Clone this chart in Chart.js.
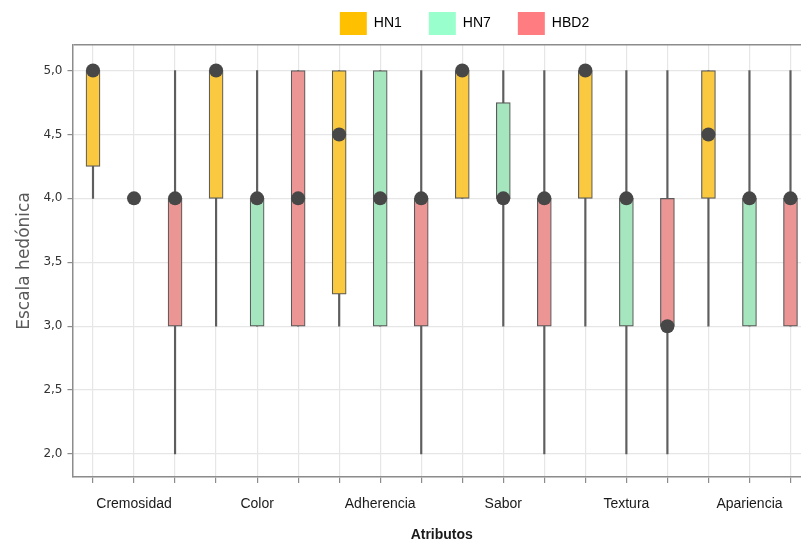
<!DOCTYPE html>
<html>
<head>
<meta charset="utf-8">
<script src="https://cdn.jsdelivr.net/npm/chart.js@4.4.1/dist/chart.umd.min.js"></script>
<style>
  html, body { margin: 0; padding: 0; background: #fff; overflow: hidden; }
  #grafico { display: block; }
</style>
</head>
<body>
<canvas id="grafico" width="812" height="542"></canvas>
<script>
// atributos y muestras
var categories = ['Cremosidad', 'Color', 'Adherencia', 'Sabor', 'Textura', 'Apariencia'];
var seriesNames = ['HN1', 'HN7', 'HBD2'];

// HN1: minimo, Q1, mediana, Q3, maximo por atributo
var hn1Min = [4, 3, 3, 4, 3, 3];
var hn1Q1  = [4.25, 4, 3.25, 4, 4, 4];
var hn1Med = [5, 5, 4.5, 5, 5, 4.5];
var hn1Q3  = [5, 5, 5, 5, 5, 5];
var hn1Max = [5, 5, 5, 5, 5, 5];

// HN7
var hn7Min = [4, 3, 3, 3, 2, 3];
var hn7Q1  = [4, 3, 3, 4, 3, 3];
var hn7Med = [4, 4, 4, 4, 4, 4];
var hn7Q3  = [4, 4, 5, 4.75, 4, 4];
var hn7Max = [4, 5, 5, 5, 5, 5];

// HBD2
var hbd2Min = [2, 3, 2, 2, 2, 3];
var hbd2Q1  = [3, 3, 3, 3, 3, 3];
var hbd2Med = [4, 4, 4, 4, 3, 4];
var hbd2Q3  = [4, 5, 4, 4, 4, 4];
var hbd2Max = [5, 5, 5, 5, 5, 5];

var yTicks = [2, 2.5, 3, 3.5, 4, 4.5, 5];

var boxColors = ['#fbc93f', '#a6e6be', '#ec9595'];
var legendColors = ['#ffc000', '#99ffcc', '#ff7c80'];

var stats = [
	{min: hn1Min, q1: hn1Q1, med: hn1Med, q3: hn1Q3, max: hn1Max},
	{min: hn7Min, q1: hn7Q1, med: hn7Med, q3: hn7Q3, max: hn7Max},
	{min: hbd2Min, q1: hbd2Q1, med: hbd2Med, q3: hbd2Q3, max: hbd2Max}
];

// una posicion por muestra dentro de cada atributo
var slots = [];
categories.forEach(function(c) {
	seriesNames.forEach(function(s) { slots.push(c + ' ' + s); });
});

var boxSets = seriesNames.map(function(name, s) {
	return {
		type: 'bar',
		label: name,
		data: slots.map(function(_, i) {
			if (i % 3 !== s) return null;
			var c = Math.floor(i / 3);
			var st = stats[s];
			return st.q1[c] === st.q3[c] ? null : [st.q1[c], st.q3[c]];
		}),
		backgroundColor: boxColors[s],
		borderColor: '#5a5a5a',
		borderWidth: 1.2,
		borderSkipped: false,
		barThickness: 14,
		grouped: false,
		order: 2
	};
});

var whiskers = {
	type: 'bar',
	label: 'rango',
	data: slots.map(function(_, i) {
		var st = stats[i % 3], c = Math.floor(i / 3);
		return [st.min[c], st.max[c]];
	}),
	backgroundColor: '#5e5e5e',
	barThickness: 1.5,
	grouped: false,
	order: 3
};

var medians = {
	type: 'line',
	label: 'mediana',
	data: slots.map(function(_, i) { return stats[i % 3].med[Math.floor(i / 3)]; }),
	showLine: false,
	pointRadius: 7,
	pointHoverRadius: 7,
	pointBackgroundColor: '#474747',
	pointBorderWidth: 0,
	order: 1
};

// mueve la leyenda hacia la derecha como en el original
var legendShift = {
	id: 'legendShift',
	afterLayout: function(chart, args, opts) {
		chart.legend.left += opts.dx;
		chart.legend.right += opts.dx;
	}
};

var ctx = document.getElementById('grafico');
var grafico = new Chart(ctx, {
	type: 'bar',
	data: {
		labels: slots,
		datasets: boxSets.concat([whiskers, medians])
	},
	plugins: [legendShift],
	options: {
		responsive: false,
		animation: false,
		layout: { autoPadding: false, padding: { top: -15, left: 14, right: 1, bottom: 0 } },
		plugins: {
			tooltip: { enabled: false },
			legendShift: { dx: 52 },
			legend: {
				position: 'top',
				labels: {
					boxWidth: 27,
					boxHeight: 23,
					padding: 27,
					color: '#1a1a1a',
					font: { family: '"Liberation Sans", Arial, sans-serif', size: 14 },
					generateLabels: function(chart) {
						return seriesNames.map(function(name, i) {
							return {
								text: name,
								fillStyle: legendColors[i],
								strokeStyle: legendColors[i],
								lineWidth: 0,
								hidden: false,
								datasetIndex: i
							};
						});
					}
				}
			}
		},
		scales: {
			x: {
				afterFit: function(scale) { scale.paddingRight = 0; },
				grid: {
					offset: false,
					color: '#e6e6e6',
					lineWidth: 1.2,
					tickColor: '#8c8c8c',
					tickLength: 6
				},
				border: { color: '#8c8c8c', width: 1.5 },
				ticks: {
					autoSkip: false,
					maxRotation: 0,
					padding: 14,
					color: '#1a1a1a',
					font: { family: '"Liberation Sans", Arial, sans-serif', size: 14, lineHeight: 1 },
					callback: function(val, i) {
						return i % 3 === 1 ? categories[(i - 1) / 3] : '';
					}
				},
				title: {
					display: true,
					text: 'Atributos',
					color: '#1a1a1a',
					font: { family: '"Liberation Sans", Arial, sans-serif', size: 14, weight: 'bold', lineHeight: 1 },
					padding: { top: 3, bottom: 0 }
				}
			},
			y: {
				min: 1.82,
				max: 5.2,
				afterBuildTicks: function(scale) {
					scale.ticks = [scale.min].concat(yTicks, [scale.max]).map(function(v) { return {value: v}; });
				},
				grid: {
					color: function(c) { return c.tick && c.tick.value >= 5.2 ? '#8c8c8c' : '#e6e6e6'; },
					lineWidth: function(c) { return c.tick && c.tick.value >= 5.2 ? 1.5 : 1.2; },
					tickColor: function(c) { return c.tick && yTicks.indexOf(c.tick.value) >= 0 ? '#8c8c8c' : 'rgba(0,0,0,0)'; },
					tickLength: 5
				},
				border: { color: '#8c8c8c', width: 1.5 },
				ticks: {
					padding: 5,
					color: '#333',
					font: { family: '"DejaVu Sans", sans-serif', size: 12 },
					callback: function(v) {
						return yTicks.indexOf(v) >= 0 ? v.toFixed(1).replace('.', ',') : '';
					}
				},
				title: {
					display: true,
					text: 'Escala hedónica',
					color: '#5a5a5a',
					font: { family: '"DejaVu Sans", sans-serif', size: 17 },
					padding: { top: 0, bottom: 4 }
				}
			}
		}
	}
});
</script>
</body>
</html>
